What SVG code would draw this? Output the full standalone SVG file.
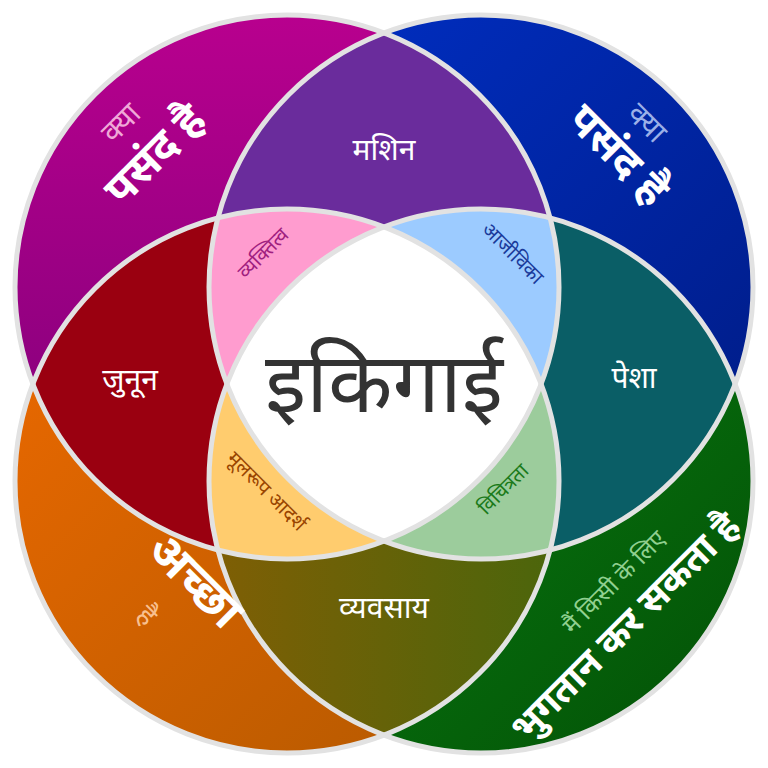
<svg xmlns="http://www.w3.org/2000/svg" width="768" height="768" viewBox="0 0 768 768">
<style>
text{font-family:"Noto Sans","Lato",sans-serif;text-anchor:middle}
.w{fill:#fff;font-size:30px}
.b{fill:#fff;font-size:44px;font-weight:bold}
.s{font-size:20px}
.o{fill:none;stroke:#e2e2e2;stroke-width:5}
</style>
<defs>
<clipPath id="cA"><circle cx="287" cy="287" r="272"/></clipPath>
<clipPath id="cB"><circle cx="481" cy="287" r="272"/></clipPath>
<clipPath id="cC"><circle cx="287" cy="481" r="272"/></clipPath>
<clipPath id="cD"><circle cx="481" cy="481" r="272"/></clipPath>
<linearGradient id="gA" x1="0" y1="0" x2="0" y2="1"><stop offset="0" stop-color="#b8008e"/><stop offset="1" stop-color="#7a0078"/></linearGradient>
<linearGradient id="gB" x1="0" y1="0" x2="1" y2="1"><stop offset="0" stop-color="#0030c8"/><stop offset="1" stop-color="#001a80"/></linearGradient>
<linearGradient id="gC" x1="0" y1="0" x2="1" y2="1"><stop offset="0" stop-color="#f06a00"/><stop offset="1" stop-color="#b05800"/></linearGradient>
<linearGradient id="gD" x1="0" y1="0" x2="1" y2="1"><stop offset="0" stop-color="#0a8a14"/><stop offset="1" stop-color="#035006"/></linearGradient>
<linearGradient id="gBot" x1="0" y1="0" x2="1" y2="0"><stop offset="0" stop-color="#a05a00"/><stop offset="1" stop-color="#2a6a10"/></linearGradient>
</defs>
<g id="circles">
<circle cx="287" cy="287" r="272" fill="url(#gA)"/>
<circle cx="481" cy="287" r="272" fill="url(#gB)"/>
<circle cx="287" cy="481" r="272" fill="url(#gC)"/>
<circle cx="481" cy="481" r="272" fill="url(#gD)"/>
</g>
<g id="pairs">
<g clip-path="url(#cA)"><rect width="768" height="768" fill="#6a2c9c" clip-path="url(#cB)"/></g>
<g clip-path="url(#cA)"><rect width="768" height="768" fill="#9a0010" clip-path="url(#cC)"/></g>
<g clip-path="url(#cB)"><rect width="768" height="768" fill="#0a5e66" clip-path="url(#cD)"/></g>
<g clip-path="url(#cC)"><rect width="768" height="768" fill="url(#gBot)" clip-path="url(#cD)"/></g>
</g>
<g id="triples">
<g clip-path="url(#cA)"><g clip-path="url(#cB)"><rect width="768" height="768" fill="#ff9ccf" clip-path="url(#cC)"/></g></g>
<g clip-path="url(#cA)"><g clip-path="url(#cB)"><rect width="768" height="768" fill="#9ccbff" clip-path="url(#cD)"/></g></g>
<g clip-path="url(#cA)"><g clip-path="url(#cC)"><rect width="768" height="768" fill="#ffcc6e" clip-path="url(#cD)"/></g></g>
<g clip-path="url(#cB)"><g clip-path="url(#cC)"><rect width="768" height="768" fill="#9ccc9c" clip-path="url(#cD)"/></g></g>
<g clip-path="url(#cA)"><g clip-path="url(#cB)"><g clip-path="url(#cC)"><rect width="768" height="768" fill="#fff" clip-path="url(#cD)"/></g></g></g>
</g>
<g id="outlines">
<circle class="o" cx="287" cy="287" r="272"/>
<circle class="o" cx="481" cy="287" r="272"/>
<circle class="o" cx="287" cy="481" r="272"/>
<circle class="o" cx="481" cy="481" r="272"/>
</g>
<g id="labels">
<text x="384" y="412" style="font-size:84px;fill:#333">इकिगाई</text>
<text class="w" x="384" y="160">मशिन</text>
<text class="w" x="130" y="390">जुनून</text>
<text class="w" x="634" y="388">पेशा</text>
<text class="w" x="384" y="618">व्यवसाय</text>
<text class="s" fill="#a0207f" transform="translate(268,258) rotate(-45)">व्यक्तित्व</text>
<text class="s" fill="#1a3a9a" transform="translate(508,258) rotate(45)">आजीविका</text>
<text class="s" fill="#994400" transform="translate(262,496) rotate(45)">मूलरूप आदर्श</text>
<text class="s" fill="#1a7a1a" transform="translate(508,494) rotate(-45)">विचित्रता</text>
<text fill="#f0a8d8" style="font-size:30px" transform="translate(128,130) rotate(-45)">क्या</text>
<text class="b" transform="translate(165,165) rotate(-45)">पसंद है</text>
<text fill="#9ab0e8" style="font-size:30px" transform="translate(640,130) rotate(45)">क्या</text>
<text class="b" transform="translate(608,165) rotate(45)">पसंद है</text>
<text class="b" style="font-size:48px" transform="translate(184,592) rotate(45)">अच्छा</text>
<text fill="#f8c090" style="font-size:28px" transform="translate(140,622) rotate(45)">है</text>
<text fill="#90d090" style="font-size:24px" transform="translate(620,588) rotate(-45)">मैं किसी के लिए</text>
<text class="b" style="font-size:38px" transform="translate(634,636) rotate(-45)">भुगतान कर सकता है</text>
</g>
</svg>
